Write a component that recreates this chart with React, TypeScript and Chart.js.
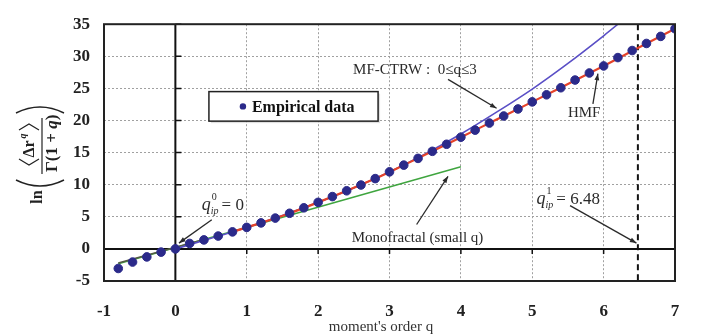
import React, { useEffect, useRef } from "react";
import { Chart, registerables } from "chart.js";
Chart.register(...registerables);

// ---- data ----
const empiricalQ = [-0.8, -0.6, -0.4, -0.2, 0, 0.2, 0.4, 0.6, 0.8, 1.0, 1.2, 1.4, 1.6, 1.8, 2.0, 2.2, 2.4, 2.6, 2.8, 3.0, 3.2, 3.4, 3.6, 3.8, 4.0, 4.2, 4.4, 4.6, 4.8, 5.0, 5.2, 5.4, 5.6, 5.8, 6.0, 6.2, 6.4, 6.6, 6.8, 7.0];
const empiricalY = [-3.05, -2.05, -1.25, -0.5, 0, 0.85, 1.4, 2.0, 2.65, 3.35, 4.05, 4.8, 5.55, 6.4, 7.25, 8.15, 9.05, 9.95, 10.95, 12.0, 13.05, 14.1, 15.2, 16.3, 17.4, 18.5, 19.6, 20.7, 21.8, 22.9, 24.0, 25.1, 26.3, 27.4, 28.5, 29.8, 30.9, 32.0, 33.1, 34.3];

const hmfQ = [0.8, 1.2, 1.6, 2.0, 2.4, 2.8, 3.2, 3.6, 4.0, 4.5, 5.0, 5.5, 6.0, 6.5, 7.0];
const hmfY = [2.65, 4.05, 5.55, 7.25, 9.05, 10.95, 13.05, 15.2, 17.4, 20.15, 22.9, 25.7, 28.5, 31.4, 34.3];

const ctrwQ = [0, 0.5, 1, 1.5, 2, 2.5, 3, 3.5, 4, 4.5, 5, 5.5, 6, 6.3];
const ctrwY = [0, 1.65, 3.35, 5.2, 7.25, 9.5, 12.0, 14.8, 17.9, 21.3, 24.9, 28.9, 33.2, 35.9];

const monoQ = [-0.8, 4.0];
const monoY = [-2.3, 12.8];

const lowQ = [-0.8, 0.4];
const lowY = [-2.2, 1.45];

const xTickValues = [-1, 0, 1, 2, 3, 4, 5, 6, 7];
const yTickValues = [-5, 0, 5, 10, 15, 20, 25, 30, 35];
const qip1 = 6.48;

const FONT = '"Liberation Serif", "Times New Roman", serif';

const pts = (xs: number[], ys: number[]) => xs.map((x, i) => ({ x, y: ys[i] }));

function arrow(ctx: CanvasRenderingContext2D, x1: number, y1: number, x2: number, y2: number, head = 7) {
  ctx.beginPath();
  ctx.moveTo(x1, y1);
  ctx.lineTo(x2, y2);
  ctx.stroke();
  const a = Math.atan2(y2 - y1, x2 - x1);
  ctx.beginPath();
  ctx.moveTo(x2, y2);
  ctx.lineTo(x2 - head * Math.cos(a - 0.35), y2 - head * Math.sin(a - 0.35));
  ctx.lineTo(x2 - head * Math.cos(a + 0.35), y2 - head * Math.sin(a + 0.35));
  ctx.closePath();
  ctx.fill();
}

function qipText(ctx: CanvasRenderingContext2D, x: number, y: number, sup: string, rest: string) {
  ctx.textAlign = "left";
  ctx.textBaseline = "alphabetic";
  ctx.font = `italic 18px ${FONT}`;
  ctx.fillText("q", x, y);
  const w = ctx.measureText("q").width;
  ctx.font = `italic 10px ${FONT}`;
  ctx.fillText("ip", x + w, y + 4);
  const w2 = ctx.measureText("ip").width;
  ctx.font = `10px ${FONT}`;
  ctx.fillText(sup, x + w + 1, y - 10);
  ctx.font = `17px ${FONT}`;
  ctx.fillText(rest, x + w + w2 + 3, y);
}

const decor = {
  id: "decor",
  beforeDatasetsDraw(chart: any) {
    const { ctx, chartArea: ca, scales } = chart;
    const xs = scales.x, ys = scales.y;
    ctx.save();
    const xd = xs.getPixelForValue(qip1);
    ctx.strokeStyle = "#111";
    ctx.lineWidth = 2;
    ctx.setLineDash([6, 4]);
    ctx.beginPath();
    ctx.moveTo(xd, ca.top);
    ctx.lineTo(xd, ca.bottom);
    ctx.stroke();
    ctx.setLineDash([]);
    const x0 = xs.getPixelForValue(0);
    const y0 = ys.getPixelForValue(0);
    ctx.strokeStyle = "#111";
    ctx.lineWidth = 2;
    ctx.beginPath();
    ctx.moveTo(ca.left, y0);
    ctx.lineTo(ca.right, y0);
    ctx.moveTo(x0, ca.top);
    ctx.lineTo(x0, ca.bottom);
    ctx.stroke();
    ctx.lineWidth = 1.5;
    ctx.beginPath();
    xTickValues.forEach((v) => {
      const px = xs.getPixelForValue(v);
      ctx.moveTo(px, y0 - 1);
      ctx.lineTo(px, y0 + 5);
    });
    yTickValues.forEach((v) => {
      const py = ys.getPixelForValue(v);
      ctx.moveTo(x0, py);
      ctx.lineTo(x0 + 6, py);
    });
    ctx.stroke();
    ctx.restore();
  },
  afterDraw(chart: any) {
    const { ctx, chartArea: ca, scales } = chart;
    const xs = scales.x, ys = scales.y;
    const X = (v: number) => xs.getPixelForValue(v);
    const Y = (v: number) => ys.getPixelForValue(v);
    ctx.save();
    ctx.strokeStyle = "#222";
    ctx.lineWidth = 2;
    ctx.strokeRect(ca.left, ca.top, ca.right - ca.left, ca.bottom - ca.top);

    // legend box
    const lx = X(0.47), rx = X(2.84), ty = Y(24.5), by = Y(19.9);
    ctx.fillStyle = "rgba(0,0,0,0.12)";
    ctx.fillRect(lx + 2, ty + 2, rx - lx, by - ty);
    ctx.fillStyle = "#fff";
    ctx.fillRect(lx, ty, rx - lx, by - ty);
    ctx.lineWidth = 1.5;
    ctx.strokeStyle = "#222";
    ctx.strokeRect(lx, ty, rx - lx, by - ty);
    const cy = (ty + by) / 2;
    ctx.fillStyle = "#2B2A8A";
    ctx.beginPath();
    ctx.arc(lx + 34, cy, 3.2, 0, Math.PI * 2);
    ctx.fill();
    ctx.fillStyle = "#111";
    ctx.font = `bold 16px ${FONT}`;
    ctx.textAlign = "left";
    ctx.textBaseline = "middle";
    ctx.fillText("Empirical data", lx + 43, cy + 1);

    // annotations
    ctx.fillStyle = "#2a2a2a";
    ctx.strokeStyle = "#2a2a2a";
    ctx.lineWidth = 1.3;
    ctx.textBaseline = "alphabetic";
    ctx.font = `15px ${FONT}`;
    ctx.fillText("MF-CTRW :  0≤q≤3", X(2.49), Y(27.3));
    arrow(ctx, X(3.82), Y(26.4), X(4.5), Y(21.9));

    ctx.fillText("HMF", X(5.5), Y(20.5));
    arrow(ctx, X(5.85), Y(22.6), X(5.92), Y(27.3));

    ctx.fillText("Monofractal (small q)", X(2.47), Y(1.0));
    arrow(ctx, X(3.38), Y(3.8), X(3.82), Y(11.3));

    qipText(ctx, X(0.37), Y(6.0), "0", "= 0");
    arrow(ctx, X(0.51), Y(4.55), X(0.05), Y(0.9));

    qipText(ctx, X(5.06), Y(7.0), "1", "= 6.48");
    arrow(ctx, X(5.53), Y(6.75), X(6.46), Y(0.9));

    // x axis title
    ctx.fillStyle = "#333";
    ctx.font = `15px ${FONT}`;
    ctx.textAlign = "center";
    ctx.textBaseline = "alphabetic";
    ctx.fillText("moment's order q", 381, 331);

    // y axis title (rotated formula)
    ctx.translate(40, 150);
    ctx.rotate(-Math.PI / 2);
    ctx.fillStyle = "#222";
    ctx.strokeStyle = "#222";
    ctx.textAlign = "center";
    ctx.textBaseline = "middle";
    ctx.font = `bold 16px ${FONT}`;
    ctx.fillText("ln", -47, -2);
    ctx.lineWidth = 1.4;
    ctx.beginPath();
    ctx.moveTo(-30, -24);
    ctx.quadraticCurveTo(-42, 0, -30, 24);
    ctx.moveTo(37, -24);
    ctx.quadraticCurveTo(49, 0, 37, 24);
    ctx.stroke();
    ctx.lineWidth = 1.2;
    ctx.beginPath();
    ctx.moveTo(-24, 2);
    ctx.lineTo(32, 2);
    ctx.stroke();
    ctx.font = `bold 16px ${FONT}`;
    ctx.fillText("Δr", 1, -10);
    ctx.font = `bold italic 10px ${FONT}`;
    ctx.fillText("q", 14, -17);
    ctx.beginPath();
    ctx.moveTo(-9, -21);
    ctx.lineTo(-15, -11);
    ctx.lineTo(-9, -1);
    ctx.moveTo(20, -21);
    ctx.lineTo(26, -11);
    ctx.lineTo(20, -1);
    ctx.stroke();
    ctx.textAlign = "left";
    ctx.font = `bold 17px ${FONT}`;
    let dx = -22;
    ctx.fillText("Γ(1 + ", dx, 13);
    dx += ctx.measureText("Γ(1 + ").width;
    ctx.font = `bold italic 17px ${FONT}`;
    ctx.fillText("q", dx, 13);
    dx += ctx.measureText("q").width;
    ctx.font = `bold 17px ${FONT}`;
    ctx.fillText(")", dx, 13);
    ctx.restore();
  },
};

export default function App() {
  const ref = useRef<HTMLCanvasElement | null>(null);
  useEffect(() => {
    if (!ref.current) return;
    const gridOpts = { color: "#a0a0a0", lineWidth: 1, drawTicks: false };
    const tickFont = { family: FONT, size: 17, weight: "bold" as const };
    const chart = new Chart(ref.current, {
      type: "scatter",
      data: {
        datasets: [
          {
            label: "Empirical data",
            data: pts(empiricalQ, empiricalY),
            pointRadius: 4.3,
            pointBackgroundColor: "#2B2A8A",
            pointBorderColor: "#2B2A8A",
            showLine: false,
          },
          {
            label: "HMF",
            data: pts(hmfQ, hmfY),
            showLine: true,
            borderColor: "#E5432A",
            borderWidth: 2.2,
            pointRadius: 0,
            cubicInterpolationMode: "monotone",
            clip: 0,
          },
          {
            label: "MF-CTRW",
            data: pts(ctrwQ, ctrwY),
            showLine: true,
            borderColor: "#5A4FC6",
            borderWidth: 1.6,
            pointRadius: 0,
            cubicInterpolationMode: "monotone",
            clip: 0,
          },
          {
            label: "low q",
            data: pts(lowQ, lowY),
            showLine: true,
            borderColor: "#555a45",
            borderWidth: 1.6,
            pointRadius: 0,
            clip: 0,
          },
          {
            label: "Monofractal",
            data: pts(monoQ, monoY),
            showLine: true,
            borderColor: "#3FA53F",
            borderWidth: 1.5,
            pointRadius: 0,
            clip: 0,
          },
        ],
      } as any,
      options: {
        animation: false,
        responsive: false,
        devicePixelRatio: 1,
        layout: { padding: { top: 9, right: 26, bottom: 0, left: 0 } },
        plugins: { legend: { display: false }, tooltip: { enabled: false } },
        scales: {
          x: {
            type: "linear",
            min: -1,
            max: 7,
            ticks: { stepSize: 1, font: tickFont, color: "#222", padding: 20 },
            grid: gridOpts,
            border: { display: false, dash: [2, 2] },
            afterFit: (s: any) => {
              s.height = 54;
            },
          },
          y: {
            type: "linear",
            min: -5,
            max: 35,
            ticks: { stepSize: 5, font: tickFont, color: "#222", padding: 14 },
            grid: gridOpts,
            border: { display: false, dash: [2, 2] },
            afterFit: (s: any) => {
              s.width = 104;
            },
          },
        },
      } as any,
      plugins: [decor],
    });
    return () => chart.destroy();
  }, []);
  return (
    <div style={{ position: "absolute", left: 0, top: 0, width: 701, height: 335, background: "#fff" }}>
      <canvas ref={ref} width={701} height={335} style={{ width: 701, height: 335 }} />
    </div>
  );
}
